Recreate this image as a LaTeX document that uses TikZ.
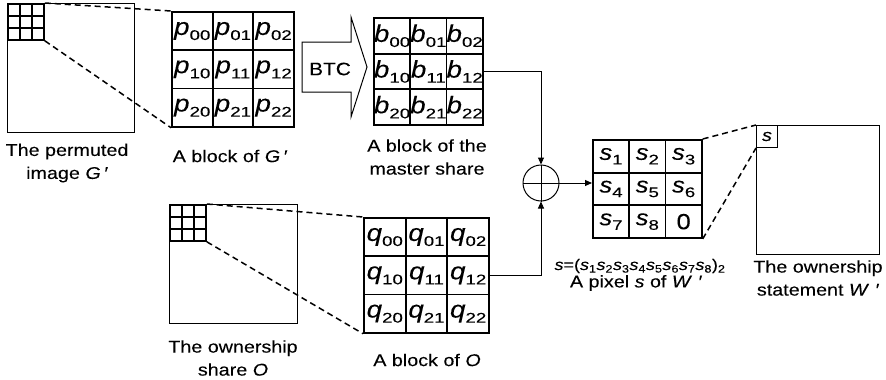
\documentclass[tikz,border=0pt]{standalone}
\usepackage{fontspec}
\setmainfont{Liberation Sans}[FakeStretch=1.16, FakeBold=0.12]
\usetikzlibrary{positioning, arrows.meta}

% cell text: italic letter with upright index
\newcommand{\cel}[2]{\textit{#1}\raisebox{-0.4ex}{\fontsize{14}{14}\selectfont\scalebox{1.15}[1]{#2}}}
\newcommand{\sbit}[1]{\textit{s}\textsubscript{#1}}

\begin{document}
\begin{tikzpicture}[x=1pt, y=-1pt, line width=1pt,
  every node/.style={inner sep=0pt},
  cell/.style={draw, line width=1.8pt, anchor=north west, font=\fontsize{24}{24}\selectfont},
  mini/.style={draw, line width=1.8pt, anchor=north west, minimum size=12pt},
  image/.style={draw, anchor=north west},
  zoomline/.style={dash pattern=on 6pt off 4pt, line width=1.5pt},
  flow/.style={-{Triangle[length=7pt, width=6pt]}},
  caption/.style={align=center, font=\fontsize{17}{23}\selectfont}]
\useasboundingbox (0,0) rectangle (886,380);

% permuted image G'
\node[image, minimum width=127pt, minimum height=129pt] (G) at (7,3) {};
\foreach \r in {0,1,2} \foreach \c in {0,1,2}
  \node[mini] (g\r\c) at ({7+12*\c},{3+12*\r}) {};
\node[caption] (Gcap) at (67,163) {The permuted\\image \textit{G}\,\textit{′}};

% block of G'
\foreach \r in {0,1,2} \foreach \c in {0,1,2}
  \node[cell, minimum width=40.7pt, minimum height=38.3pt] (p\r\c) at ({171+40.7*\c},{11+38.3*\r}) {\cel{p}{\r\c}};
\node[caption] (pcap) at (230,156) {A block of \textit{G}\,\textit{′}};
\draw[zoomline] (g02.north east) -- (p00.north west);
\draw[zoomline] (g22.south east) -- (p20.south west);

% BTC
\draw (302,42) -- (351,42) -- (351,17) -- (367,67) -- (351,117) -- (351,92) -- (302,92) -- cycle;
\node[font=\fontsize{18}{18}\selectfont] (btc) at (330,69) {BTC};

% master share block
\foreach \r in {0,1,2} \foreach \c in {0,1,2}
  \node[cell, minimum width=36.3pt, minimum height=35.7pt] (b\r\c) at ({373+36.3*\c},{17+35.7*\r}) {\cel{b}{\r\c}};
\node[caption] (bcap) at (427,157) {A block of the\\master share};

% ownership share O
\node[image, minimum width=128pt, minimum height=119pt] (O) at (169,204) {};
\foreach \r in {0,1,2} \foreach \c in {0,1,2}
  \node[mini] (o\r\c) at ({169+12*\c},{204+12*\r}) {};
\node[caption] (Ocap) at (233,358) {The ownership\\share \textit{O}};

% block of O
\foreach \r in {0,1,2} \foreach \c in {0,1,2}
  \node[cell, minimum width=41.7pt, minimum height=38.3pt] (q\r\c) at ({363+41.7*\c},{217+38.3*\r}) {\cel{q}{\r\c}};
\node[caption] (qcap) at (427,360) {A block of \textit{O}};
\draw[zoomline] (o02.north east) -- (q00.north west);
\draw[zoomline] (o22.south east) -- (q20.south west);

% xor
\node[draw, circle, minimum size=36pt] (xor) at (541,183) {};
\draw (xor.north) -- (xor.south);
\draw (xor.west) -- (xor.east);
\draw[flow] (b12.east) -| (xor.north);
\draw[flow] (q12.east) -| (xor.south);

% pixel bits
\foreach \t [count=\i from 0] in {\cel{s}{1},\cel{s}{2},\cel{s}{3},\cel{s}{4},\cel{s}{5},\cel{s}{6},\cel{s}{7},\cel{s}{8},0} {
  \pgfmathtruncatemacro{\r}{\i/3}
  \pgfmathtruncatemacro{\c}{mod(\i,3)}
  \node[cell, minimum width=36.3pt, minimum height=32.7pt, font=\fontsize{22}{22}\selectfont] (s\r\c) at ({592+36.3*\c},{139+32.7*\r}) {\t};
}
\draw[flow] (xor.east) -- (xor.east -| s10.west);
\node[font=\fontsize{15.5}{17}\selectfont] (sform) at (640,266)
  {\textit{s}=(\sbit{1}\sbit{2}\sbit{3}\sbit{4}\sbit{5}\sbit{6}\sbit{7}\sbit{8})\textsubscript{2}};
\node[caption] (scap) at (636,283) {A pixel \textit{s} of \textit{W}\,\,\textit{′}};

% ownership statement W'
\node[image, minimum width=123pt, minimum height=129pt] (W) at (756,125) {};
\node[image, minimum width=21pt, minimum height=22pt, font=\fontsize{17}{17}\selectfont] (spix) at (756,125) {\textit{s}};
\draw[zoomline] (s02.north east) -- (spix.north west);
\draw[zoomline] (s22.south east) -- (spix.south west);
\node[caption] (Wcap) at (818,278) {The ownership\\statement \textit{W}\,\,\textit{′}};
\end{tikzpicture}
\end{document}
